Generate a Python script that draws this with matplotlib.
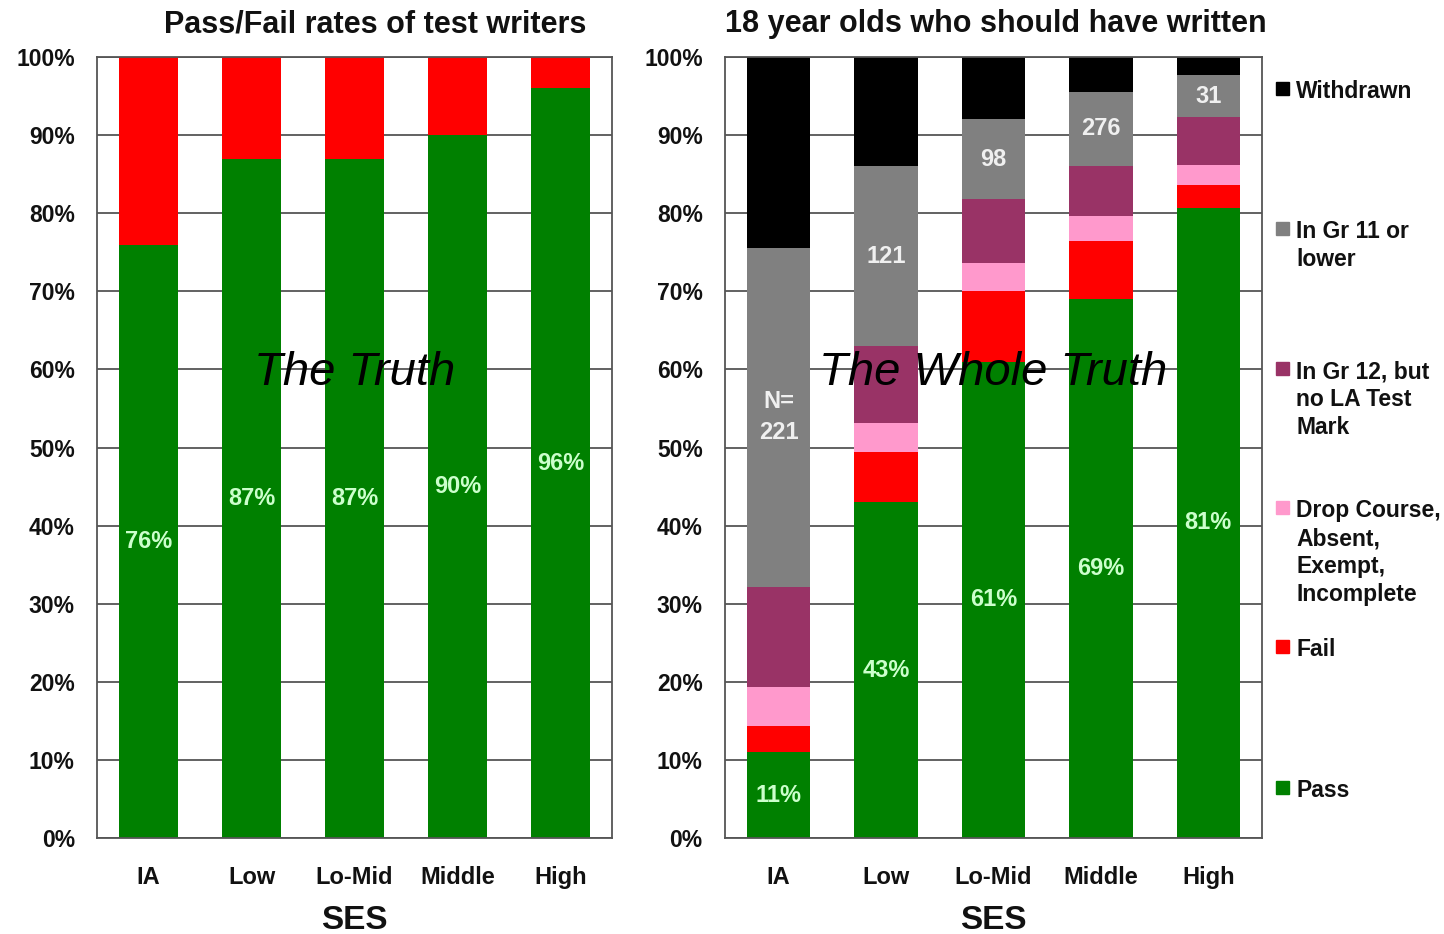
import matplotlib.pyplot as plt
from matplotlib.patches import Rectangle
import numpy as np

plt.rcParams['font.family'] = ['Liberation Sans', 'DejaVu Sans']

ses = ['IA', 'Low', 'Lo-Mid', 'Middle', 'High']

# left panel: test writers only
writers_pass = [76, 87, 87, 90, 96]
writers_fail = [24, 13, 13, 10, 4]

# right panel: all 18 year olds who should have written
pass_pct = [11, 43, 61, 69, 80.7]
fail_pct = [3.4, 6.4, 9.0, 7.4, 2.9]
drop_pct = [4.9, 3.7, 3.6, 3.2, 2.6]
gr12_pct = [12.9, 9.9, 8.2, 6.5, 6.1]
gr11_pct = [43.4, 23.0, 10.3, 9.4, 5.4]
withdrawn_pct = [24.4, 14.0, 7.9, 4.5, 2.3]
gr11_counts = ['N=\n221', '121', '98', '276', '31']
pass_labels = ['11%', '43%', '61%', '69%', '81%']

GREEN = '#008000'
RED = '#ff0000'
PINK = '#ff99cc'
PURPLE = '#993366'
GRAY = '#808080'
BLACK = '#000000'
LABEL_GREEN = '#ccffcc'

fig = plt.figure(figsize=(14.44, 9.34), dpi=100)
ax1 = fig.add_axes([0.0672, 0.1028, 0.3566, 0.836])
ax2 = fig.add_axes([0.502, 0.1028, 0.372, 0.836])

x = np.arange(len(ses))


def style_axes(ax, title, title_x=0.5):
    ax.set_xlim(-0.5, len(ses) - 0.5)
    ax.set_ylim(0, 100)
    ax.set_yticks(np.arange(0, 101, 10))
    ax.set_yticklabels([f'{v}%' for v in range(0, 101, 10)],
                       fontsize=16.5, fontweight='bold', color='#111111')
    ax.set_xticks(x)
    ax.set_xticklabels(ses, fontsize=17, fontweight='bold', color='#111111')
    ax.tick_params(axis='y', length=0, pad=16)
    ax.tick_params(axis='x', length=0, pad=20)
    ax.grid(axis='y', color='#555555', linewidth=1.3)
    ax.set_axisbelow(True)
    for s in ax.spines.values():
        s.set_color('#555555')
        s.set_linewidth(1.3)
    ax.set_title(title, fontsize=22, fontweight='bold', pad=18, color='#111111',
                 x=title_x)
    ax.set_xlabel('SES', fontsize=24, fontweight='bold', labelpad=12, color='#111111')


# left panel
w1 = 0.58
ax1.bar(x, writers_pass, w1, color=GREEN, zorder=2)
ax1.bar(x, writers_fail, w1, bottom=writers_pass, color=RED, zorder=2)
for xi, v in zip(x, writers_pass):
    ax1.text(xi, v / 2, f'{v}%', ha='center', va='center', color=LABEL_GREEN,
             fontsize=17, fontweight='bold', zorder=3)
style_axes(ax1, 'Pass/Fail rates of test writers', title_x=0.54)
ax1.text(2.0, 59.5, 'The Truth', ha='center', va='center', fontsize=34,
         style='italic', zorder=4)

# right panel
w2 = 0.59
series = [
    ('Pass', pass_pct, GREEN),
    ('Fail', fail_pct, RED),
    ('Drop Course,\nAbsent,\nExempt,\nIncomplete', drop_pct, PINK),
    ('In Gr 12, but\nno LA Test\nMark', gr12_pct, PURPLE),
    ('In Gr 11 or\nlower', gr11_pct, GRAY),
    ('Withdrawn', withdrawn_pct, BLACK),
]
bottom = np.zeros(len(ses))
gr11_bottom = None
for name, vals, col in series:
    vals = np.array(vals)
    if col == GRAY:
        gr11_bottom = bottom.copy()
    ax2.bar(x, vals, w2, bottom=bottom, color=col, zorder=2)
    bottom += vals

for xi, v, lab in zip(x, pass_pct, pass_labels):
    ax2.text(xi, v / 2, lab, ha='center', va='center', color=LABEL_GREEN,
             fontsize=17, fontweight='bold', zorder=3)
for xi, b, v, lab in zip(x, gr11_bottom, gr11_pct, gr11_counts):
    ax2.text(xi, b + v / 2, lab, ha='center', va='center', color='#f0f0f0',
             fontsize=17, fontweight='bold', zorder=3, linespacing=1.45)
style_axes(ax2, '18 year olds who should have written', title_x=0.505)
ax2.text(2.0, 59.5, 'The Whole Truth', ha='center', va='center', fontsize=34,
         style='italic', zorder=4)

# legend, top entry first, tops evenly spaced
tops_px = [80, 220, 360, 499, 638, 779]
for (name, vals, col), top in zip(series[::-1], tops_px):
    yf = 1 - top / 934
    fig.patches.append(Rectangle((1276 / 1444, yf - 15 / 934), 13 / 1444, 13 / 934,
                                 transform=fig.transFigure, color=col))
    fig.text(1296 / 1444, yf, name, ha='left', va='top', fontsize=16.5,
             fontweight='bold', color='#111111', linespacing=1.28)

fig.savefig('out.png', dpi=100)
